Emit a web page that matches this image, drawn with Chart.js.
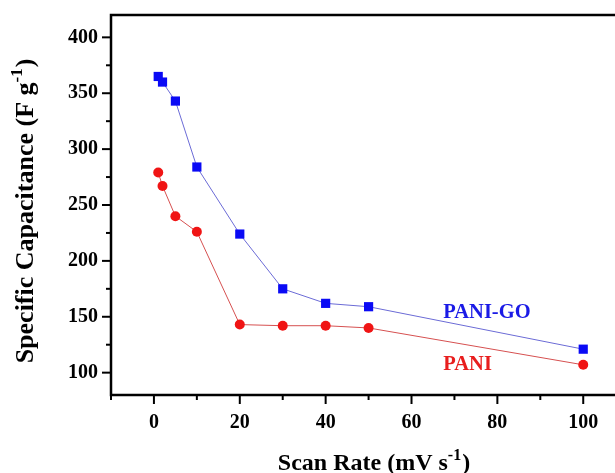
<!DOCTYPE html>
<html>
<head>
<meta charset="utf-8">
<script src="https://cdn.jsdelivr.net/npm/chart.js@4/dist/chart.umd.min.js"></script>
<style>
    html, body { margin: 0; padding: 0; background: #fff; }
    canvas { display: block; }
</style>
</head>
<body>
<canvas id="chart" width="615" height="473"></canvas>
<script>
// Data
const scanRates = [1, 2, 5, 10, 20, 30, 40, 50, 100];
const paniGoCap = [365, 360, 343, 284, 224, 175, 162, 159, 121];
const paniCap = [279, 267, 240, 226, 143, 142, 142, 140, 107];

const xTickValues = [0, 20, 40, 60, 80, 100];
const xMinorTicks = [-10, 10, 30, 50, 70, 90];
const yTickValues = [100, 150, 200, 250, 300, 350, 400];
const yMinorTicks = [125, 175, 225, 275, 325, 375];

const SERIF = '"Liberation Serif", "Times New Roman", serif';

function toPoints(xs, ys) {
    return xs.map((x, i) => ({x, y: ys[i]}));
}

// keep the plot box fixed, labels may overflow it
function noLabelPadding(scale) {
    scale.paddingTop = 0;
    scale.paddingBottom = 0;
    scale.paddingLeft = 0;
    scale.paddingRight = 0;
}


//////////////////////////////
//      Frame & Titles      //
//////////////////////////////
const framePlugin = {
    id: 'frame',
    afterDraw(chart) {
        const {ctx, chartArea, scales} = chart;
        const {left, right, top, bottom} = chartArea;
        ctx.save();
        ctx.strokeStyle = '#000';
        ctx.lineWidth = 2.5;
        ctx.lineCap = 'square';

        // axes + top border (no right border, figure is cropped)
        ctx.beginPath();
        ctx.moveTo(right + 2, top);
        ctx.lineTo(left, top);
        ctx.lineTo(left, bottom);
        ctx.lineTo(right + 2, bottom);
        ctx.stroke();

        ctx.lineCap = 'butt';
        ctx.lineWidth = 2;
        const tick = (vals, len, axis) => {
            for (const v of vals) {
                ctx.beginPath();
                if (axis === 'x') {
                    const px = scales.x.getPixelForValue(v);
                    ctx.moveTo(px, bottom);
                    ctx.lineTo(px, bottom + len);
                } else {
                    const py = scales.y.getPixelForValue(v);
                    ctx.moveTo(left, py);
                    ctx.lineTo(left - len, py);
                }
                ctx.stroke();
            }
        };
        tick(xTickValues, 9, 'x');
        tick(xMinorTicks, 5, 'x');
        tick(yTickValues, 9, 'y');
        tick(yMinorTicks, 5, 'y');

        // series labels
        ctx.font = `bold 20.5px ${SERIF}`;
        ctx.textAlign = 'left';
        ctx.textBaseline = 'alphabetic';
        ctx.fillStyle = '#1a1ae6';
        ctx.fillText('PANI-GO', scales.x.getPixelForValue(67.4), scales.y.getPixelForValue(148.6));
        ctx.fillStyle = '#e81e1e';
        ctx.fillText('PANI', scales.x.getPixelForValue(67.4), scales.y.getPixelForValue(102.3));

        // axis titles with superscripts
        ctx.fillStyle = '#000';
        drawSupTitle(ctx, 'Scan Rate (mV s', '-1', ')', 374, 470, 24);
        ctx.translate(33, 211);
        ctx.rotate(-Math.PI / 2);
        drawSupTitle(ctx, 'Specific Capacitance (F g', '-1', ')', 0, 0, 26);
        ctx.restore();
    }
};

function drawSupTitle(ctx, main, sup, tail, cx, baseY, size) {
    const big = `bold ${size}px ${SERIF}`;
    const small = `bold ${Math.round(size * 0.65)}px ${SERIF}`;
    ctx.textAlign = 'left';
    ctx.textBaseline = 'alphabetic';
    ctx.font = big;
    const w1 = ctx.measureText(main).width;
    const w3 = ctx.measureText(tail).width;
    ctx.font = small;
    const w2 = ctx.measureText(sup).width;
    let x = cx - (w1 + w2 + w3 + 1) / 2;
    ctx.font = big;
    ctx.fillText(main, x, baseY);
    x += w1;
    ctx.font = small;
    ctx.fillText(sup, x, baseY - size * 0.42);
    x += w2 + 1;
    ctx.font = big;
    ctx.fillText(tail, x, baseY);
}


//////////////////////////////
//          Chart           //
//////////////////////////////
const config = {
    type: 'line',
    data: {
        datasets: [
            {
                label: 'PANI-GO',
                data: toPoints(scanRates, paniGoCap),
                borderColor: '#6b6bd6',
                borderWidth: 1,
                pointStyle: 'rect',
                pointRadius: 6.5,
                pointBackgroundColor: '#0a0af5',
                pointBorderColor: '#0a0af5',
                pointBorderWidth: 0,
                tension: 0
            },
            {
                label: 'PANI',
                data: toPoints(scanRates, paniCap),
                borderColor: '#d65050',
                borderWidth: 1,
                pointStyle: 'circle',
                pointRadius: 5,
                pointBackgroundColor: '#f01414',
                pointBorderColor: '#f01414',
                pointBorderWidth: 0,
                tension: 0
            }
        ]
    },
    options: {
        responsive: false,
        animation: false,
        layout: {
            autoPadding: false,
            padding: {top: 15, right: 0, left: 0, bottom: 0}
        },
        plugins: {
            legend: {display: false},
            tooltip: {enabled: false}
        },
        scales: {
            x: {
                type: 'linear',
                min: -10,
                max: 107.4,
                border: {display: false},
                grid: {display: false, drawTicks: false},
                ticks: {
                    padding: 16,
                    color: '#000',
                    font: {family: SERIF, size: 20, weight: 'bold'},
                    callback: (v) => String(v)
                },
                afterBuildTicks: (scale) => {
                    scale.ticks = xTickValues.map((value) => ({value}));
                },
                afterFit: (scale) => {
                    scale.height = 78;
                    noLabelPadding(scale);
                }
            },
            y: {
                type: 'linear',
                min: 80,
                max: 420,
                border: {display: false},
                grid: {display: false, drawTicks: false},
                ticks: {
                    padding: 13,
                    color: '#000',
                    font: {family: SERIF, size: 20, weight: 'bold'},
                    callback: (v) => String(v)
                },
                afterBuildTicks: (scale) => {
                    scale.ticks = yTickValues.map((value) => ({value}));
                },
                afterFit: (scale) => {
                    scale.width = 111;
                    noLabelPadding(scale);
                }
            }
        }
    },
    plugins: [framePlugin]
};

new Chart(document.getElementById('chart'), config);
</script>
</body>
</html>
